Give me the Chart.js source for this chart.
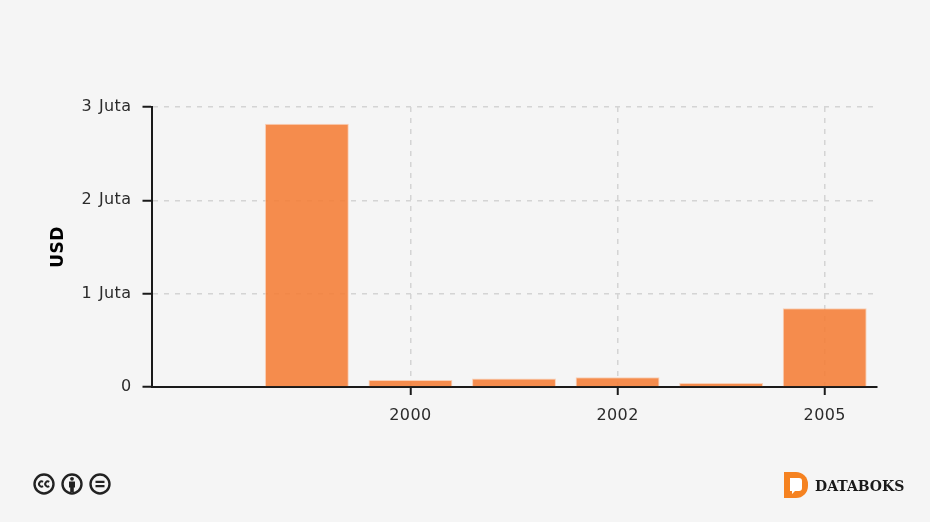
<!DOCTYPE html>
<html>
<head>
<meta charset="utf-8">
<title>Databoks</title>
<script src="https://cdn.jsdelivr.net/npm/chart.js@4/dist/chart.umd.min.js"></script>
<style>
  html, body { margin: 0; padding: 0; background: #f5f5f5; }
  #wrap { position: relative; width: 930px; height: 522px; overflow: hidden; }
  #myChart { position: absolute; left: 0; top: 0; }
  #cc { position: absolute; left: 32px; top: 472px; }
  #logo { position: absolute; left: 783px; top: 471px; }
  #brand { position: absolute; left: 815px; top: 476px; font: bold 14px "DejaVu Serif", serif; color: #1a1a1a; line-height: 20px; }
</style>
</head>
<body>
<div id="wrap">
  <canvas id="myChart" width="930" height="522"></canvas>
  <svg id="cc" width="82" height="24" viewBox="0 0 82 24">
    <g fill="none" stroke="#222" stroke-width="2.4">
      <circle cx="12" cy="12" r="9.5"/>
      <circle cx="40" cy="12" r="9.5"/>
      <circle cx="68" cy="12" r="9.5"/>
      <path d="M11 9.8a2.6 2.6 0 1 0 0 4.4M17.2 9.8a2.6 2.6 0 1 0 0 4.4" stroke-width="2"/>
    </g>
    <circle cx="40" cy="6.8" r="1.9" fill="#222"/>
    <path d="M37 9.5h6v6h-1.2v4.5h-3.6v-4.5H37z" fill="#222"/>
    <path d="M63.5 8.8h9v2.2h-9zM63.5 13h9v2.2h-9z" fill="#222"/>
  </svg>
  <svg id="logo" width="26" height="28" viewBox="0 0 26 28">
    <path d="M1 1h12a12 12 0 0 1 12 12v2a12 12 0 0 1-12 12H1z" fill="#f58220"/>
    <path d="M7 7h9a3 3 0 0 1 3 3v7a3 3 0 0 1-3 3h-4l-3 3v-3H7z" fill="#fff"/>
  </svg>
  <div id="brand">DATABOKS</div>
</div>
<script>
const categories = ['1998', '1999', '2000', '2001', '2002', '2004', '2005'];
const xTickLabels = ['', '', '2000', '', '2002', '', '2005'];
const usdValues = [0, 2820000, 75000, 90000, 105000, 42000, 845000];
const yTickValues = [0, 1000000, 2000000, 3000000];
const yTickLabels = ['0', '1 Juta', '2 Juta', '3 Juta'];

const gridColor = '#d4d4d4';
const axisColor = '#1a1a1a';
const textColor = '#2b2b2b';

// label di referensi sedikit lebih renggang
const textSpacePlugin = {
    id: 'textSpace',
    beforeDraw: chart => {
        chart.ctx.letterSpacing = '0.4px';
        chart.ctx.wordSpacing = '1.5px';
    }
};

new Chart(document.getElementById('myChart').getContext('2d'), {
    type: 'bar',
    plugins: [textSpacePlugin],
    data: {
        labels: categories,
        datasets: [{
            label: 'USD',
            data: usdValues,
            backgroundColor: 'rgba(245, 124, 52, 0.87)',
            borderColor: 'rgba(250, 200, 170, 0.8)',
            borderWidth: 1,
            barPercentage: 0.81,
            categoryPercentage: 1
        }]
    },
    options: {
        responsive: false,
        animation: false,
        layout: { padding: { left: 46.5, right: 53.5, top: 107, bottom: 60 } },
        plugins: { legend: { display: false }, tooltip: { enabled: false } },
        scales: {
            x: {
                offset: true,
                afterFit: axis => { axis.height = 75; },
                border: { color: axisColor, width: 2, dash: [5, 6] },
                grid: {
                    offset: false,
                    color: c => xTickLabels[c.index] ? gridColor : 'transparent',
                    tickColor: c => xTickLabels[c.index] ? axisColor : 'transparent',
                    tickLength: 8,
                    lineWidth: 1.5,
                    tickWidth: 2,
                    tickBorderDash: []
                },
                ticks: {
                    autoSkip: false,
                    maxRotation: 0,
                    padding: 11,
                    color: textColor,
                    font: { family: 'DejaVu Sans', size: 16 },
                    callback: (v, i) => xTickLabels[i]
                }
            },
            y: {
                min: 0,
                max: 3000000,
                afterFit: axis => { axis.width = 105; },
                afterBuildTicks: axis => { axis.ticks = yTickValues.map(v => ({ value: v })); },
                border: { color: axisColor, width: 2, dash: [5, 6] },
                grid: {
                    color: gridColor,
                    tickColor: axisColor,
                    tickLength: 9,
                    lineWidth: 1.5,
                    tickWidth: 2,
                    tickBorderDash: []
                },
                ticks: {
                    padding: 11,
                    color: textColor,
                    font: { family: 'DejaVu Sans', size: 16 },
                    callback: v => yTickLabels[yTickValues.indexOf(v)]
                },
                title: {
                    display: true,
                    text: 'USD',
                    color: '#000',
                    font: { family: 'DejaVu Sans', size: 17, weight: 'bold' },
                    padding: { top: 2, bottom: 0 }
                }
            }
        }
    }
});
</script>
</body>
</html>
